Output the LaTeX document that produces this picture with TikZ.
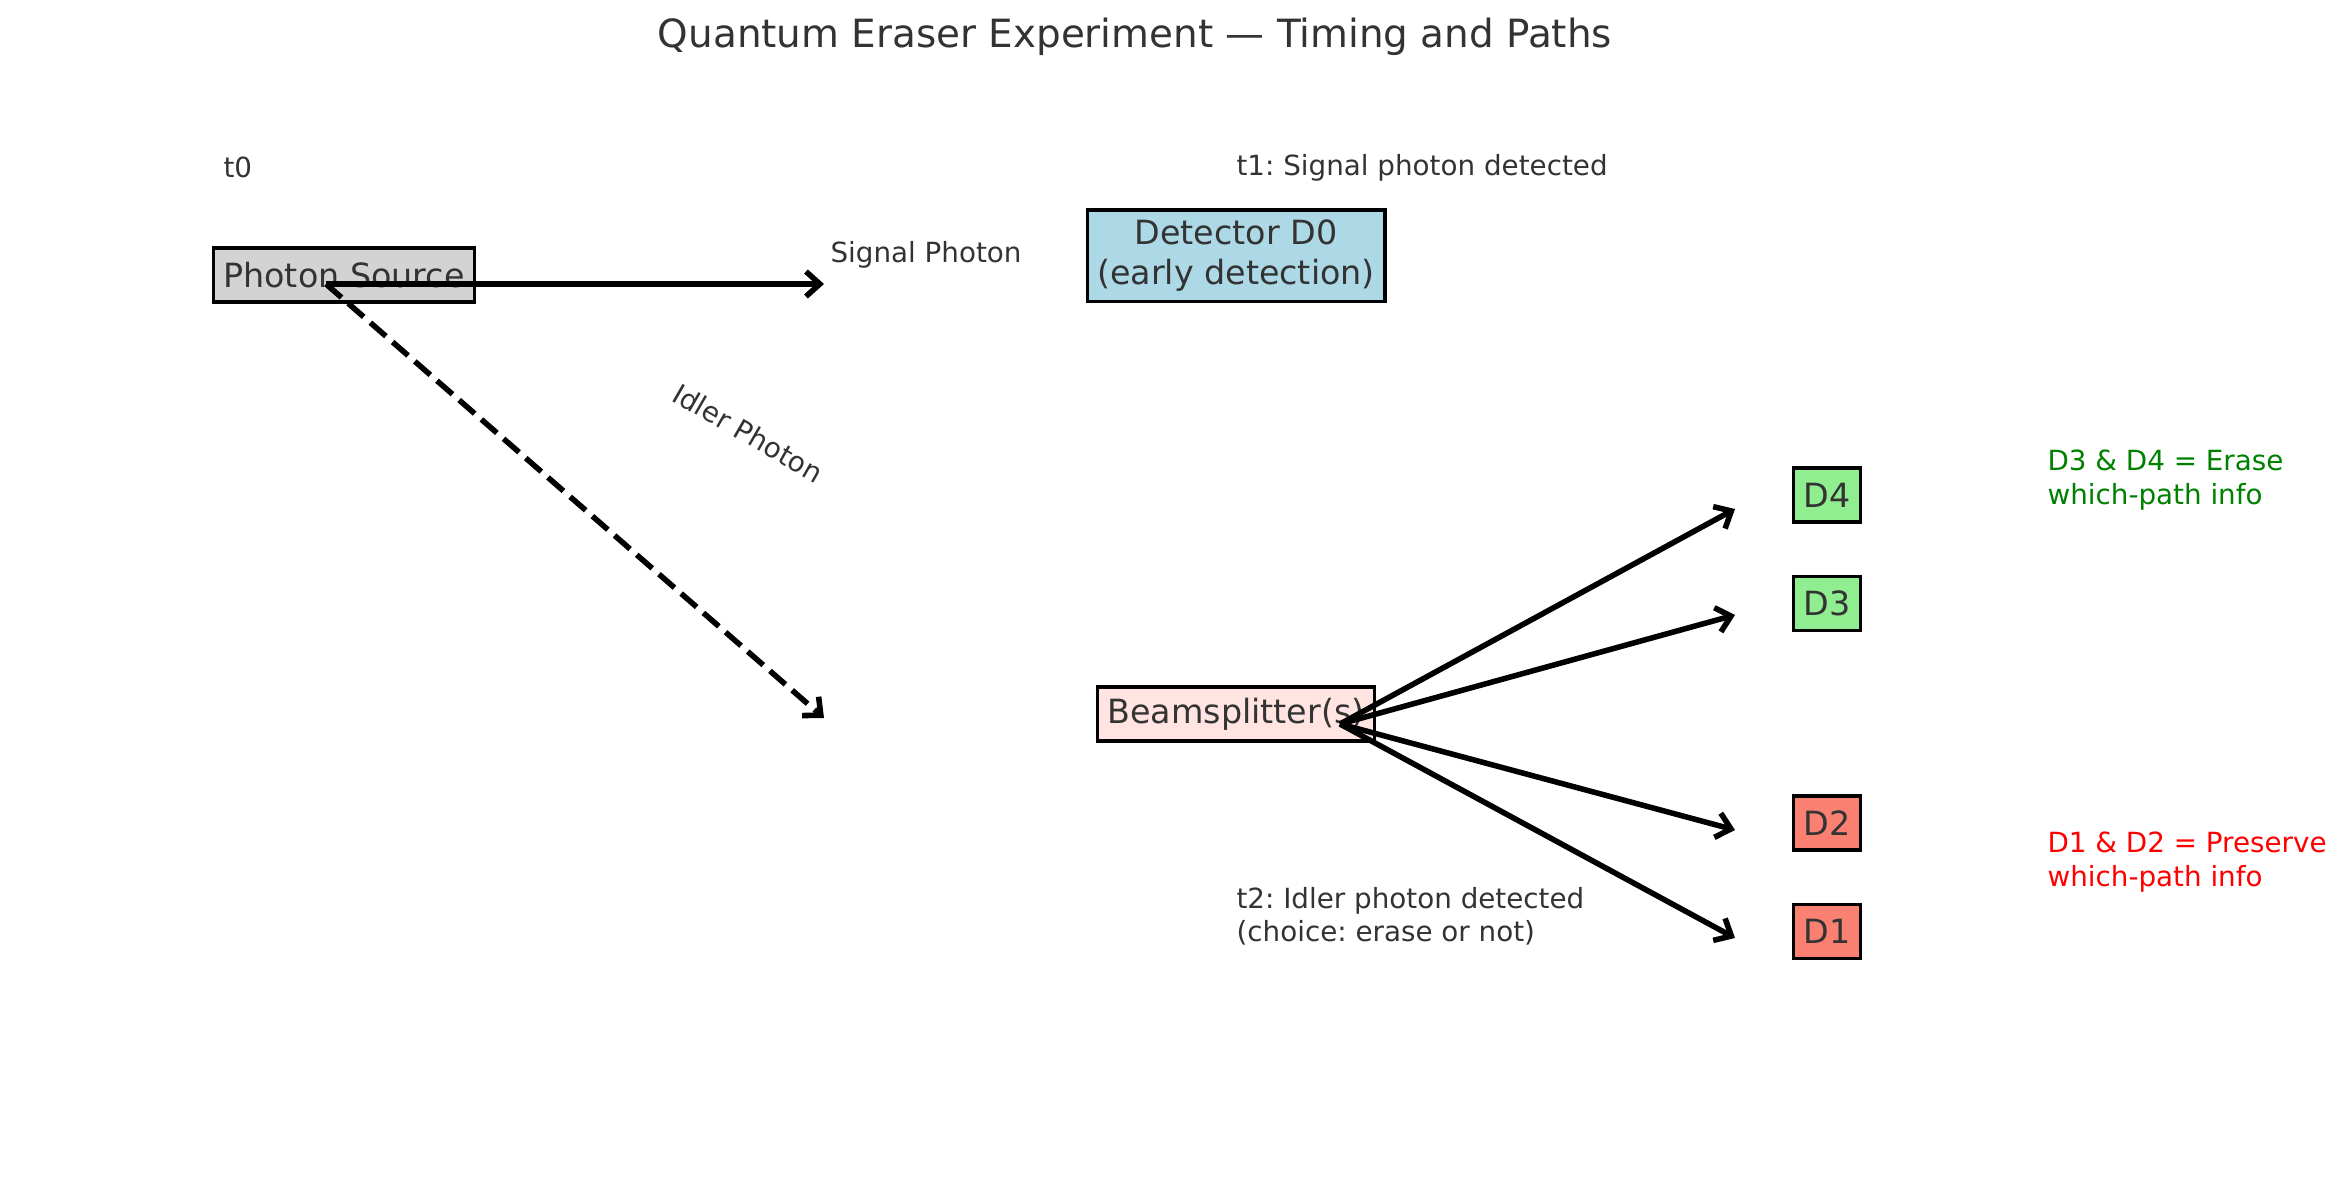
\documentclass[tikz,border=0pt]{standalone}
\usepackage{fontspec}
\setmainfont{DejaVu Sans}
\usepackage{xcolor}
\usepackage{tikz}
\usetikzlibrary{arrows.meta, positioning}
\definecolor{txtgray}{RGB}{51,51,51}
\definecolor{srcgray}{RGB}{211,211,211}
\definecolor{dzero}{RGB}{173,216,230}
\definecolor{bsrose}{RGB}{255,228,225}
\definecolor{erasegreen}{RGB}{144,238,144}
\definecolor{keepred}{RGB}{250,128,114}
\definecolor{darkgreen}{RGB}{0,128,0}
\frenchspacing

\begin{document}
\begin{tikzpicture}[
    x=0.36pt, y=-0.36pt,
    box/.style={draw, line width=1.2pt, font=\fontsize{12}{14.4}\selectfont, text=txtgray, inner xsep=3.6pt, inner ysep=0pt, minimum height=19.4pt, align=center},
    note/.style={font=\fontsize{10}{12}\selectfont, text=txtgray, align=left, inner sep=0pt},
    ray/.style={-{Straight Barb[length=5pt,width=9pt]}, line width=2pt}
]
\useasboundingbox (0,0) rectangle (2346,1180);

% Title
\node[font=\fontsize{14}{16}\selectfont, text=txtgray] (title) at (1135,37) {Quantum Eraser Experiment — Timing and Paths};

% Source and early detector
\node[box, fill=srcgray] (src) at (344,275) {Photon Source};
\node[box, fill=dzero, minimum height=33pt] (dzero) at (1236,256) {Detector D0\\(early detection)};
\node[box, fill=bsrose] (bs) at (1236,714) {Beamsplitter(s)};

% Late detectors
\node[box, fill=erasegreen] (d4) at (1827,495) {D4};
\node[box, fill=erasegreen, below=39pt of d4.center, anchor=center] (d3) {D3};
\node[box, fill=keepred] (d2) at (1827,823) {D2};
\node[box, fill=keepred, below=39pt of d2.center, anchor=center] (d1) {D1};

% Labels
\node[note, anchor=west] (tzero) at (223,167) {t0};
\node[note, anchor=west] (tone) at (1236,168) {t1: Signal photon detected};
\node[note, anchor=west] (ttwo) at (1236,916) {t2: Idler photon detected\\(choice: erase or not)};
\node[note, anchor=west] (siglbl) at (830,255) {Signal Photon};
\node[note, rotate=-30] (idllbl) at (748,433) {Idler Photon};
\node[note, anchor=west, text=darkgreen] (eraselbl) at (2047,480) {D3 \& D4 = Erase\\which-path info};
\node[note, anchor=west, text=red] (keeplbl) at (2047,862) {D1 \& D2 = Preserve\\which-path info};

% Ray ends
\coordinate (emit) at (326,284);
\coordinate (sigend) at (824,284);
\coordinate (idlend) at (824,718);
\coordinate (fork) at (1340,724);
\coordinate (dfourin) at (1735,509);
\coordinate (dthreein) at (1735,615);
\coordinate (dtwoin) at (1735,830);
\coordinate (donein) at (1735,938);

% Arrows
\draw[ray] (emit) -- (sigend);
\draw[ray, dash pattern=on 7.4pt off 3.2pt] (emit) -- (idlend);
\draw[ray] (fork) -- (dfourin);
\draw[ray] (fork) -- (dthreein);
\draw[ray] (fork) -- (dtwoin);
\draw[ray] (fork) -- (donein);
\end{tikzpicture}
\end{document}
